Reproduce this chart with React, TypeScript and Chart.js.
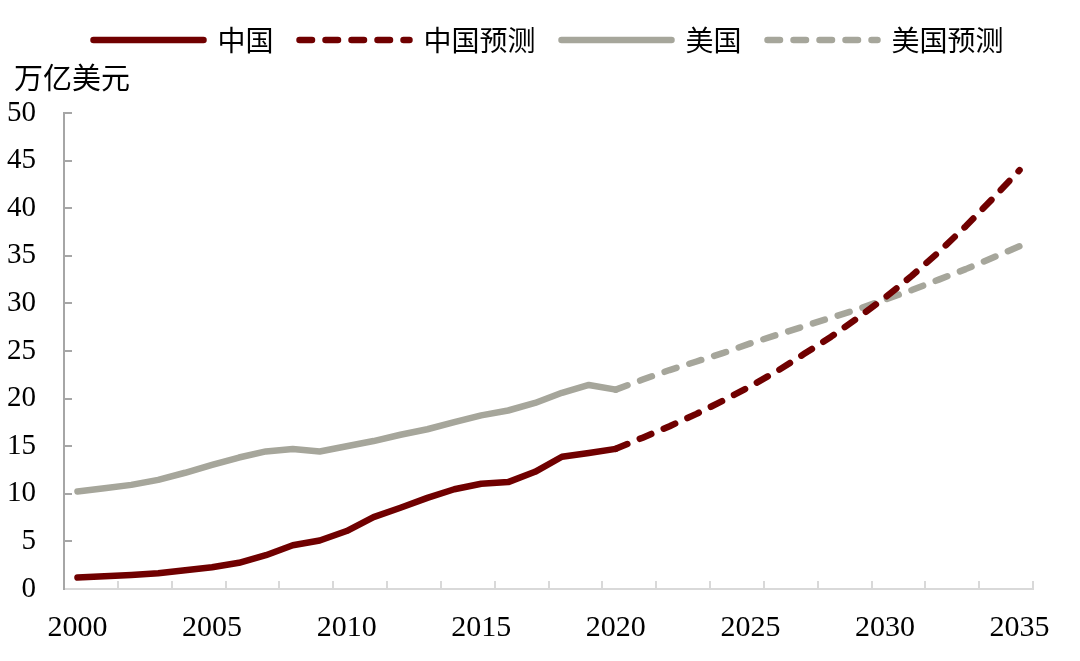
import React, { useEffect, useRef } from 'react';
import { Chart, registerables } from 'chart.js';

Chart.register(...registerables);

// ---- data (万亿美元) ----
const histYears = [2000, 2001, 2002, 2003, 2004, 2005, 2006, 2007, 2008, 2009, 2010, 2011, 2012, 2013, 2014, 2015, 2016, 2017, 2018, 2019, 2020];
const chinaActual = [1.21, 1.34, 1.47, 1.66, 1.96, 2.29, 2.75, 3.55, 4.59, 5.1, 6.09, 7.55, 8.53, 9.57, 10.48, 11.06, 11.23, 12.31, 13.89, 14.28, 14.72];
const usActual = [10.25, 10.58, 10.94, 11.46, 12.21, 13.04, 13.81, 14.45, 14.71, 14.45, 14.99, 15.54, 16.2, 16.78, 17.53, 18.24, 18.75, 19.54, 20.61, 21.43, 20.94];

const forecastYears = [2020, 2021, 2022, 2023, 2024, 2025, 2026, 2027, 2028, 2029, 2030, 2031, 2032, 2033, 2034, 2035];
const chinaForecast = [14.72, 15.9, 17.1, 18.4, 19.8, 21.3, 22.9, 24.7, 26.5, 28.5, 30.6, 32.9, 35.4, 38.1, 41.0, 44.0];
const usForecast = [20.94, 22.0, 23.0, 23.9, 24.8, 25.8, 26.7, 27.6, 28.5, 29.4, 30.4, 31.4, 32.5, 33.6, 34.8, 36.0];

const seriesLabels = ['中国', '中国预测', '美国', '美国预测'];
const yAxisUnit = '万亿美元';
const xLabelYears = [2000, 2005, 2010, 2015, 2020, 2025, 2030, 2035];
// category boundaries, one tick mark every two years
const xTickMarks = [1999.5, 2001.5, 2003.5, 2005.5, 2007.5, 2009.5, 2011.5, 2013.5, 2015.5, 2017.5, 2019.5, 2021.5, 2023.5, 2025.5, 2027.5, 2029.5, 2031.5, 2033.5, 2035.5];
const xMin = 1999.5;
const xMax = 2035.5;
const yMin = 0;
const yMax = 50;
const yStep = 5;

const RED = '#700000';
const GREY = '#A6A69B';
const DASH = [12.5, 13.5];
const CJK = '"Noto Sans CJK SC", "Noto Sans", sans-serif';
const SERIF = '"Liberation Serif", "Times New Roman", serif';

const toPoints = (xs: number[], ys: number[]) => xs.map((x, i) => ({ x, y: ys[i] }));

export default function App() {
  const ref = useRef<HTMLCanvasElement | null>(null);

  useEffect(() => {
    if (!ref.current) return;
    const lineBase = {
      pointRadius: 0,
      pointHoverRadius: 0,
      borderWidth: 6.5,
      borderCapStyle: 'round' as const,
      borderJoinStyle: 'round' as const,
      tension: 0,
      fill: false,
      xAxisID: 'x',
      yAxisID: 'y',
    };
    const chart = new Chart(ref.current, {
      type: 'line',
      data: {
        datasets: [
          { ...lineBase, label: seriesLabels[0], data: toPoints(histYears, chinaActual), borderColor: RED, backgroundColor: RED },
          { ...lineBase, label: seriesLabels[1], data: toPoints(forecastYears, chinaForecast), borderColor: RED, backgroundColor: RED, borderDash: DASH },
          { ...lineBase, label: seriesLabels[2], data: toPoints(histYears, usActual), borderColor: GREY, backgroundColor: GREY },
          { ...lineBase, label: seriesLabels[3], data: toPoints(forecastYears, usForecast), borderColor: GREY, backgroundColor: GREY, borderDash: DASH },
        ],
      },
      options: {
        animation: false,
        responsive: false,
        events: [],
        layout: { padding: { left: 14, right: 47, top: 0, bottom: 0 } },
        plugins: {
          legend: {
            position: 'top',
            fullSize: false,
            weight: 1000,
            align: 'center',
            labels: {
              usePointStyle: true,
              pointStyle: 'line',
              pointStyleWidth: 110,
              padding: 26,
              color: '#000',
              font: { family: CJK, size: 28 },
              generateLabels: (c: any) => {
                const items = (Chart.defaults.plugins.legend.labels as any).generateLabels(c);
                return items.map((it: any) => {
                  const ds: any = c.data.datasets[it.datasetIndex];
                  return {
                    ...it,
                    pointStyle: 'line',
                    lineDash: ds.borderDash || [],
                    lineCap: 'round',
                    lineWidth: 6.5,
                    strokeStyle: ds.borderColor,
                    fillStyle: ds.borderColor,
                  };
                });
              },
            },
          } as any,
          title: {
            display: true,
            text: yAxisUnit,
            align: 'start',
            position: 'top',
            weight: 500,
            color: '#000',
            font: { family: CJK, size: 29, lineHeight: 1, weight: 'normal' },
            padding: { top: -1, bottom: 21 },
          } as any,
          tooltip: { enabled: false },
        },
        scales: {
          x: {
            type: 'linear',
            position: 'bottom',
            min: xMin,
            max: xMax,
            weight: 1,
            afterBuildTicks: (s: any) => {
              s.ticks = xLabelYears.map((v) => ({ value: v }));
            },
            afterFit: (s: any) => {
              s.height = 72;
            },
            grid: { display: false },
            border: { display: false },
            ticks: {
              autoSkip: false,
              maxRotation: 0,
              padding: 13,
              color: '#000',
              font: { family: SERIF, size: 30 },
              callback: (v: any) => String(v),
            },
          },
          xt: {
            type: 'linear',
            position: 'bottom',
            min: xMin,
            max: xMax,
            weight: 0,
            afterBuildTicks: (s: any) => {
              s.ticks = xTickMarks.map((v) => ({ value: v }));
            },
            afterFit: (s: any) => {
              s.height = 0;
            },
            grid: { drawOnChartArea: false, drawTicks: true, tickLength: -8, color: '#D9D9D9', lineWidth: 2 },
            border: { display: true, color: '#D9D9D9', width: 2 },
            ticks: { display: false },
          },
          y: {
            type: 'linear',
            min: yMin,
            max: yMax,
            afterFit: (s: any) => {
              s.width = 50;
              // let the tick labels extend into the left padding
              s._computeLabelArea = () => undefined;
            },
            grid: { drawOnChartArea: false, drawTicks: true, tickLength: -8, color: '#A6A6A6', lineWidth: 2 },
            border: { display: true, color: '#A6A6A6', width: 2 },
            ticks: {
              stepSize: yStep,
              padding: 36,
              color: '#000',
              font: { family: SERIF, size: 29 },
            },
          },
        } as any,
      },
    });
    return () => chart.destroy();
  }, []);

  return (
    <div style={{ position: 'absolute', left: 0, top: 0, width: 1080, height: 661, background: '#fff' }}>
      <canvas ref={ref} width={1080} height={661} style={{ display: 'block' }} />
    </div>
  );
}
